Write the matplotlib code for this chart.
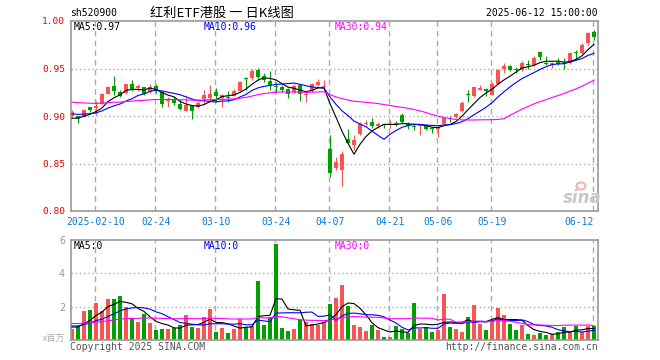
import numpy as np
import pandas as pd
import matplotlib
matplotlib.use("Agg")
import matplotlib.pyplot as plt
from matplotlib.patches import Ellipse

W, H = 660, 360
RED, GREEN = "#f85454", "#00a000"
GRID = "#aaaaaa"
MONO = "DejaVu Sans Mono"
CJK = ["Noto Sans CJK SC", "DejaVu Sans"]

# -- data --------------------------------------------------------
opens = [
    0.900, 0.900, 0.899, 0.909, 0.908, 0.913, 0.923, 0.932, 0.925, 0.924,
    0.934, 0.930, 0.930, 0.925, 0.932, 0.925, 0.916, 0.917, 0.913, 0.905,
    0.911, 0.909, 0.918, 0.919, 0.925, 0.919, 0.920, 0.921, 0.926, 0.940,
    0.940, 0.948, 0.942, 0.937, 0.932, 0.930, 0.928, 0.925, 0.933, 0.922,
    0.926, 0.933, 0.931, 0.865, 0.845, 0.843, 0.876, 0.870, 0.881, 0.892,
    0.894, 0.890, 0.892, 0.891, 0.893, 0.901, 0.892, 0.889, 0.890, 0.891,
    0.887, 0.886, 0.892, 0.898, 0.899, 0.905, 0.923, 0.921, 0.927, 0.928,
    0.922, 0.934, 0.949, 0.953, 0.949, 0.948, 0.955, 0.954, 0.967, 0.956,
    0.954, 0.957, 0.956, 0.956, 0.967, 0.966, 0.977, 0.988]
closes = [
    0.904, 0.897, 0.906, 0.906, 0.910, 0.923, 0.931, 0.926, 0.921, 0.934,
    0.928, 0.931, 0.923, 0.931, 0.926, 0.913, 0.917, 0.914, 0.907, 0.912,
    0.905, 0.914, 0.922, 0.923, 0.921, 0.922, 0.919, 0.926, 0.936, 0.939,
    0.947, 0.941, 0.938, 0.933, 0.931, 0.927, 0.923, 0.932, 0.923, 0.923,
    0.934, 0.936, 0.932, 0.840, 0.852, 0.860, 0.872, 0.875, 0.892, 0.893,
    0.889, 0.891, 0.891, 0.892, 0.892, 0.894, 0.890, 0.888, 0.891, 0.886,
    0.886, 0.888, 0.898, 0.897, 0.902, 0.914, 0.922, 0.930, 0.929, 0.926,
    0.934, 0.948, 0.953, 0.948, 0.948, 0.956, 0.954, 0.961, 0.962, 0.955,
    0.956, 0.955, 0.955, 0.966, 0.966, 0.975, 0.987, 0.983]
highs = [
    0.906, 0.900, 0.907, 0.910, 0.916, 0.924, 0.932, 0.942, 0.927, 0.934,
    0.938, 0.934, 0.931, 0.934, 0.934, 0.925, 0.920, 0.920, 0.917, 0.920,
    0.912, 0.916, 0.927, 0.933, 0.929, 0.923, 0.926, 0.928, 0.937, 0.941,
    0.949, 0.951, 0.945, 0.947, 0.936, 0.933, 0.930, 0.934, 0.934, 0.926,
    0.935, 0.939, 0.938, 0.880, 0.857, 0.863, 0.886, 0.880, 0.894, 0.896,
    0.898, 0.894, 0.892, 0.896, 0.895, 0.903, 0.894, 0.892, 0.892, 0.892,
    0.888, 0.889, 0.899, 0.900, 0.903, 0.916, 0.927, 0.931, 0.933, 0.930,
    0.936, 0.950, 0.956, 0.954, 0.952, 0.958, 0.959, 0.963, 0.968, 0.963,
    0.957, 0.961, 0.961, 0.967, 0.969, 0.977, 0.988, 0.991]
lows = [
    0.899, 0.893, 0.899, 0.904, 0.901, 0.913, 0.923, 0.922, 0.920, 0.923,
    0.926, 0.926, 0.922, 0.924, 0.924, 0.909, 0.910, 0.912, 0.906, 0.905,
    0.897, 0.908, 0.913, 0.915, 0.915, 0.910, 0.915, 0.921, 0.926, 0.927,
    0.938, 0.938, 0.936, 0.927, 0.924, 0.925, 0.919, 0.924, 0.916, 0.915,
    0.925, 0.932, 0.927, 0.836, 0.843, 0.826, 0.871, 0.864, 0.880, 0.889,
    0.887, 0.887, 0.887, 0.887, 0.889, 0.893, 0.886, 0.885, 0.880, 0.885,
    0.882, 0.878, 0.891, 0.894, 0.898, 0.904, 0.915, 0.920, 0.927, 0.921,
    0.922, 0.934, 0.945, 0.947, 0.945, 0.947, 0.950, 0.953, 0.959, 0.954,
    0.951, 0.954, 0.950, 0.955, 0.960, 0.965, 0.975, 0.980]
volumes = [  # x 1,000,000
    0.68, 0.84, 1.76, 1.80, 2.24, 1.76, 2.46, 2.46, 2.64, 1.98,
    1.32, 1.08, 1.56, 1.02, 0.60, 0.66, 0.66, 0.72, 0.90, 1.50,
    0.78, 0.75, 1.38, 1.86, 0.50, 0.72, 0.42, 0.68, 1.24, 0.76,
    0.84, 3.54, 0.90, 1.36, 5.76, 0.72, 0.56, 0.66, 1.20, 1.10,
    0.96, 0.90, 1.08, 2.16, 2.52, 3.30, 2.04, 0.90, 0.78, 0.54,
    0.90, 0.60, 0.18, 0.18, 0.84, 0.66, 0.42, 2.22, 0.66, 0.78,
    0.48, 0.60, 2.76, 0.78, 0.66, 0.48, 1.38, 2.10, 0.96, 0.60,
    1.14, 1.94, 1.50, 0.96, 0.60, 0.90, 0.36, 0.30, 0.42, 0.30,
    0.36, 0.48, 0.78, 0.48, 0.84, 0.48, 0.84, 0.84]

tick_idx = [4, 14, 24, 34, 43, 53, 61, 70, 87]
tick_lbl = ["2025-02-10", "02-24", "03-10", "03-24", "04-07",
            "04-21", "05-06", "05-19", "06-12"]

# MA levels at the left edge (history before the first bar)
price_ma_start = {5: 0.896, 10: 0.902, 30: 0.915}
vol_ma_start = {5: 0.80, 10: 0.86, 30: 1.00}
ma_colors = {5: "black", 10: "blue", 30: "magenta"}


def px(x, y):
    return x / W, 1 - y / H


def moving_avg(vals, n, start):
    s = pd.Series([start] * (n - 1) + list(vals), dtype=float)
    return s.rolling(n).mean().iloc[n - 1:].to_numpy()


x = np.arange(len(closes))
o, h, l, c = map(np.array, (opens, highs, lows, closes))
v = np.array(volumes)
col = np.where(c >= o, RED, GREEN)

fig = plt.figure(figsize=(W / 100, H / 100), dpi=100)
ax = fig.add_axes([70.7 / W, 1 - 211 / H, 527 / W, 190 / H])
axv = fig.add_axes([70.7 / W, 1 - 340 / H, 527 / W, 100 / H])

for a in (ax, axv):
    a.set_xlim(-1.3 / 6, 525.7 / 6)
    for s in a.spines.values():
        s.set_color("#999999")
        s.set_linewidth(1.2)
    a.tick_params(length=0)
    for t in tick_idx:
        a.axvline(t - 0.2, color=GRID, lw=1, ls=(0, (4, 3)), zorder=0)

# -- price panel -------------------------------------------------
ax.vlines(x, l, h, colors=col, linewidth=0.8, zorder=2)
ax.bar(x, np.maximum(np.abs(c - o), 0.0011), bottom=np.minimum(o, c),
       width=0.76, color=col, linewidth=0, zorder=2)
for n, mc in ma_colors.items():
    ax.plot(x, moving_avg(c, n, price_ma_start[n]), color=mc, lw=0.8, zorder=3)

ax.set_ylim(0.80, 1.00)
yt = [0.80, 0.85, 0.90, 0.95, 1.00]
ax.set_yticks(yt)
ax.set_yticklabels([f"{t:.2f}" for t in yt], color="#e60000",
                   fontfamily=MONO, fontsize=6.8)
ax.tick_params(axis="y", pad=4)
for yv in (0.85, 0.90, 0.95):
    ax.axhline(yv, color=GRID, lw=1, ls=(0, (1, 2)), zorder=0)
ax.set_xticks(tick_idx)
ax.set_xticklabels(tick_lbl, color="#0a7bd6", fontfamily=MONO, fontsize=7)
ax.tick_params(axis="x", pad=4)
ax.get_xticklabels()[-1].set_ha("right")

# -- volume panel ------------------------------------------------
axv.bar(x, v, width=0.78, color=col, linewidth=0, zorder=2)
for n, mc in ma_colors.items():
    axv.plot(x, moving_avg(v, n, vol_ma_start[n]), color=mc, lw=0.8, zorder=3)
axv.set_ylim(0, 6)
axv.set_yticks([2, 4, 6])
axv.set_yticklabels(["2", "4", "6"], color="#999999", fontsize=7)
axv.tick_params(axis="y", pad=4)
axv.set_xticks([])
for yv in (2, 4):
    axv.axhline(yv, color=GRID, lw=1, ls=(0, (1, 2)), zorder=0)

# -- texts -------------------------------------------------------
fig.text(*px(70, 13.5), "sh520900", fontfamily=MONO, fontsize=7, va="center")
fig.text(*px(150, 13.5), "红利ETF港股 一 日K线图", family=CJK, fontsize=9.5,
         va="center")
fig.text(*px(597.5, 13.5), "2025-06-12 15:00:00", fontfamily=MONO,
         fontsize=7, va="center", ha="right")

fig.text(*px(74, 26.5), "MA5:0.97", fontfamily=MONO, fontsize=7,
         va="center", color="black")
fig.text(*px(204, 26.5), "MA10:0.96", fontfamily=MONO, fontsize=7,
         va="center", color="blue")
fig.text(*px(334.5, 26.5), "MA30:0.94", fontfamily=MONO, fontsize=7,
         va="center", color="magenta")

fig.text(*px(74, 246), "MA5:0", fontfamily=MONO, fontsize=7,
         va="center", color="black")
fig.text(*px(204, 246), "MA10:0", fontfamily=MONO, fontsize=7,
         va="center", color="blue")
fig.text(*px(334.5, 246), "MA30:0", fontfamily=MONO, fontsize=7,
         va="center", color="magenta")

fig.text(*px(65, 338), "x百万", family=CJK, fontsize=6.5, color="#aaaaaa",
         va="center", ha="right")
fig.text(*px(70, 347), "Copyright 2025 SINA.COM", fontfamily=MONO,
         fontsize=7, color="#555555", va="center")
fig.text(*px(597.5, 347), "http://finance.sina.com.cn", fontfamily=MONO,
         fontsize=7, color="#555555", va="center", ha="right")

# sina watermark
fig.text(*px(582, 198), "sina", fontsize=12, fontstyle="italic",
         fontweight="bold", color="#c8c8c8", ha="center", va="center")
fig.patches.append(Ellipse(px(581, 186), 9 / W, 7 / H, transform=fig.transFigure,
                           fill=False, edgecolor="#f2b0b0", lw=1.5))

fig.savefig("out.png", dpi=100)
plt.close(fig)
